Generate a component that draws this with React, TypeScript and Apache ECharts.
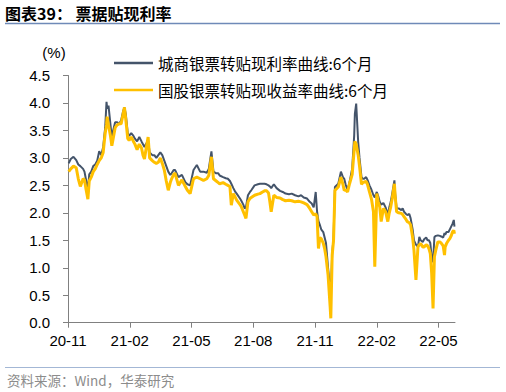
import React, { useEffect, useRef } from 'react';
import * as echarts from 'echarts';

const dates: string[] = [
  '2020-11-02','2020-11-05','2020-11-09','2020-11-13','2020-11-16','2020-11-19','2020-11-23','2020-11-25','2020-11-27','2020-11-30',
  '2020-12-02','2020-12-05','2020-12-08','2020-12-11','2020-12-14','2020-12-17','2020-12-20','2020-12-23','2020-12-26','2020-12-28','2020-12-29','2020-12-31',
  '2021-01-03','2021-01-05','2021-01-07','2021-01-10','2021-01-13','2021-01-16','2021-01-19','2021-01-22','2021-01-24','2021-01-26','2021-01-29','2021-01-31',
  '2021-02-03','2021-02-06','2021-02-08','2021-02-11','2021-02-14','2021-02-17','2021-02-19','2021-02-21','2021-02-23','2021-02-26','2021-02-28',
  '2021-03-04','2021-03-07','2021-03-10','2021-03-13','2021-03-16','2021-03-19','2021-03-22','2021-03-25','2021-03-28','2021-03-31',
  '2021-04-02','2021-04-05','2021-04-07','2021-04-12','2021-04-17','2021-04-22','2021-04-25','2021-04-29',
  '2021-05-04','2021-05-09','2021-05-14','2021-05-19','2021-05-24','2021-05-27','2021-05-31',
  '2021-06-03','2021-06-07','2021-06-10','2021-06-12','2021-06-17','2021-06-21','2021-06-24','2021-06-27','2021-06-29',
  '2021-07-02','2021-07-05','2021-07-07','2021-07-12','2021-07-14','2021-07-17','2021-07-19','2021-07-21','2021-07-24','2021-07-27','2021-07-29',
  '2021-08-03','2021-08-08','2021-08-11','2021-08-15','2021-08-18','2021-08-21','2021-08-24','2021-08-26','2021-08-28',
  '2021-09-01','2021-09-05','2021-09-10','2021-09-14','2021-09-18','2021-09-23','2021-09-27',
  '2021-10-02','2021-10-07','2021-10-11','2021-10-15','2021-10-20','2021-10-24','2021-10-27','2021-10-30',
  '2021-11-02','2021-11-04','2021-11-06','2021-11-08','2021-11-10','2021-11-13','2021-11-15','2021-11-17','2021-11-20','2021-11-23','2021-11-24','2021-11-26','2021-11-28','2021-11-30',
  '2021-12-05','2021-12-09','2021-12-12','2021-12-14','2021-12-16','2021-12-19','2021-12-22','2021-12-26','2021-12-29','2021-12-30',
  '2022-01-01','2022-01-04','2022-01-06','2022-01-09','2022-01-11','2022-01-13','2022-01-16','2022-01-18','2022-01-21','2022-01-24','2022-01-27','2022-01-29',
  '2022-02-01','2022-02-03','2022-02-05','2022-02-07','2022-02-10','2022-02-13','2022-02-16','2022-02-18','2022-02-20','2022-02-22','2022-02-25','2022-02-26','2022-02-28',
  '2022-03-03','2022-03-07','2022-03-09','2022-03-11','2022-03-14','2022-03-16','2022-03-19','2022-03-21','2022-03-24','2022-03-26','2022-03-29',
  '2022-04-01','2022-04-03','2022-04-05','2022-04-08','2022-04-10','2022-04-13','2022-04-15','2022-04-17','2022-04-19','2022-04-21','2022-04-23','2022-04-25','2022-04-27','2022-04-30',
  '2022-05-03','2022-05-05','2022-05-08','2022-05-10','2022-05-11','2022-05-13','2022-05-16','2022-05-18','2022-05-20','2022-05-22','2022-05-24','2022-05-25',
];

// 城商银票转贴现利率曲线:6个月
const cityBankRate: number[] = [
  2.90,2.98,3.02,2.96,2.88,2.85,2.80,2.75,2.62,2.42,
  2.70,2.75,2.85,2.88,2.95,3.12,3.05,3.20,3.55,4.02,3.90,3.95,
  3.60,3.35,3.50,3.65,3.65,3.62,3.68,3.85,3.92,3.80,3.45,3.40,
  3.45,3.40,3.35,3.30,3.38,3.30,3.25,3.20,3.25,3.32,3.10,
  3.05,3.05,3.00,3.05,3.10,3.05,2.95,2.85,2.75,2.69,
  2.72,2.78,2.78,2.65,2.69,2.56,2.52,2.50,
  2.78,2.87,2.75,2.75,2.73,2.80,3.12,
  2.75,2.72,2.72,2.68,2.65,2.63,2.62,2.58,2.53,
  2.45,2.38,2.35,2.26,2.22,2.15,2.08,2.10,2.32,2.38,2.41,
  2.50,2.52,2.53,2.53,2.53,2.52,2.50,2.48,2.45,
  2.52,2.45,2.40,2.38,2.35,2.34,2.35,
  2.32,2.30,2.32,2.28,2.26,2.20,2.17,2.10,
  2.38,2.02,1.85,1.78,1.70,1.65,1.55,1.45,1.00,0.63,0.55,1.25,1.55,2.47,
  2.53,2.75,2.65,2.62,2.52,2.41,2.56,2.81,3.41,3.80,
  3.99,3.29,3.00,2.65,2.62,2.62,2.65,2.60,2.50,2.42,2.32,2.28,
  2.38,2.30,2.20,2.15,2.18,2.10,1.96,2.10,2.20,2.35,2.59,2.35,2.08,
  2.08,2.05,2.08,2.02,1.98,1.96,1.98,1.90,1.70,1.50,1.42,
  1.38,1.56,1.50,1.47,1.52,1.55,1.50,1.50,1.45,1.20,1.10,1.56,1.58,1.59,
  1.58,1.57,1.55,1.63,1.60,1.65,1.65,1.70,1.75,1.80,1.87,1.75,
];

// 国股银票转贴现收益率曲线:6个月
const stateBankYield: number[] = [
  2.75,2.80,2.85,2.82,2.62,2.48,2.62,2.60,2.45,2.25,
  2.58,2.65,2.75,2.80,2.88,2.95,3.00,3.10,3.45,3.60,3.75,3.60,
  3.40,3.22,3.35,3.55,3.60,3.62,3.62,3.80,3.92,3.70,3.35,3.32,
  3.38,3.30,3.25,3.15,3.25,3.18,3.05,2.98,3.15,3.38,3.00,
  2.95,2.92,2.90,2.92,3.00,2.90,2.78,2.58,2.41,2.55,
  2.62,2.70,2.72,2.50,2.60,2.48,2.41,2.35,
  2.62,2.65,2.62,2.59,2.62,2.68,3.02,
  2.62,2.58,2.55,2.53,2.55,2.52,2.50,2.48,2.14,
  2.35,2.28,2.23,2.15,2.11,2.02,1.96,1.90,2.20,2.26,2.28,
  2.32,2.34,2.35,2.38,2.40,2.40,2.36,2.20,2.02,
  2.32,2.28,2.27,2.24,2.22,2.23,2.22,
  2.20,2.21,2.20,2.18,2.15,2.08,2.02,1.96,
  1.98,1.93,1.35,1.55,1.53,1.45,1.35,1.20,0.87,0.30,0.08,1.23,1.50,2.41,
  2.47,2.65,2.52,2.41,2.42,2.38,2.53,2.70,3.15,3.30,
  3.25,3.05,2.85,2.52,2.55,2.56,2.57,2.52,2.38,2.25,2.02,1.02,
  2.35,2.20,2.11,1.84,2.08,2.02,1.84,2.00,2.11,2.26,2.53,2.30,2.02,
  2.00,1.99,1.97,1.93,1.88,1.84,1.82,1.78,1.55,1.32,0.78,
  1.38,1.42,1.44,1.38,1.38,1.42,1.40,1.35,1.26,0.90,0.26,1.20,1.32,1.47,
  1.47,1.45,1.40,1.23,1.38,1.44,1.50,1.53,1.58,1.65,1.68,1.62,
];

const seriesNames = ['城商银票转贴现利率曲线:6个月', '国股银票转贴现收益率曲线:6个月'];
// tick positions in months counted from 2020-11
const xTickMonths = [0, 3, 6, 9, 12, 15, 18];

function monthOffset(d: string): number {
  const [y, m, day] = d.split('-').map(Number);
  const dim = new Date(y, m, 0).getDate();
  return (y - 2020) * 12 + (m - 11) + (day - 1) / dim;
}

function monthLabel(v: number): string {
  const k = Math.round(v) + 10;
  const y = 20 + Math.floor(k / 12);
  const m = (k % 12) + 1;
  return `${y}-${String(m).padStart(2, '0')}`;
}

const LATIN = '"Liberation Sans", Arial, sans-serif';
const CJK = '"Noto Sans CJK SC", "Liberation Sans", sans-serif';

export default function App() {
  const ref = useRef<HTMLDivElement>(null);
  useEffect(() => {
    if (!ref.current) return;
    const chart = echarts.init(ref.current, null, { renderer: 'svg' });
    const s1 = dates.map((d, i) => [monthOffset(d), cityBankRate[i]]);
    const s2 = dates.map((d, i) => [monthOffset(d), stateBankYield[i]]);
    chart.setOption({
      animation: false,
      backgroundColor: '#ffffff',
      grid: { left: 68, right: 51, top: 75.5, bottom: 69.3, containLabel: false },
      legend: {
        orient: 'vertical',
        left: 114,
        top: 54,
        padding: 0,
        icon: 'rect',
        itemWidth: 39,
        itemHeight: 2.5,
        itemGap: 9,
        textStyle: { fontSize: 15.5, color: '#000', fontFamily: CJK, lineHeight: 18 },
        data: seriesNames,
      },
      xAxis: {
        type: 'value',
        min: 0,
        max: 18.8,
        interval: 3,
        axisLine: { show: true, lineStyle: { color: '#808080', width: 1 } },
        axisTick: { show: true, length: 5, customValues: xTickMonths, lineStyle: { color: '#808080' } },
        axisLabel: {
          customValues: xTickMonths,
          formatter: (v: number) => monthLabel(v),
          fontSize: 15,
          color: '#000',
          fontFamily: LATIN,
          margin: 10,
        },
        splitLine: { show: false },
      },
      yAxis: {
        type: 'value',
        min: 0,
        max: 4.5,
        interval: 0.5,
        axisLine: { show: true, lineStyle: { color: '#808080', width: 1 } },
        axisTick: { show: true, length: 5, lineStyle: { color: '#808080' } },
        axisLabel: {
          formatter: (v: number) => v.toFixed(1),
          fontSize: 15,
          color: '#000',
          fontFamily: LATIN,
          margin: 18,
        },
        splitLine: { show: false },
      },
      series: [
        {
          name: seriesNames[0],
          type: 'line',
          symbol: 'none',
          data: s1,
          lineStyle: { color: '#44546A', width: 2 },
          itemStyle: { color: '#44546A' },
        },
        {
          name: seriesNames[1],
          type: 'line',
          symbol: 'none',
          data: s2,
          lineStyle: { color: '#FFC000', width: 3 },
          itemStyle: { color: '#FFC000' },
        },
      ],
      graphic: [
        {
          type: 'text',
          left: 5,
          top: 5,
          style: { text: '图表39： 票据贴现利率', font: `bold 16px ${CJK}`, fill: '#000' },
        },
        {
          type: 'line',
          shape: { x1: 5, y1: 23.5, x2: 500, y2: 23.5 },
          style: { stroke: '#6F8AB8', lineWidth: 1.5 },
        },
        {
          type: 'text',
          x: 54,
          y: 52,
          style: { text: '(%)', font: `15px ${LATIN}`, fill: '#000', align: 'center', verticalAlign: 'middle' },
        },
        {
          type: 'line',
          shape: { x1: 5, y1: 367.5, x2: 500, y2: 367.5 },
          style: { stroke: '#A3B7D5', lineWidth: 1 },
        },
        {
          type: 'text',
          x: 7,
          y: 380,
          style: { text: '资料来源：Wind，华泰研究', font: `13.5px ${CJK}`, fill: '#8C8C8C', verticalAlign: 'middle' },
        },
      ],
    });
    return () => chart.dispose();
  }, []);
  return <div ref={ref} style={{ position: 'fixed', left: 0, top: 0, width: 506, height: 392 }} />;
}
